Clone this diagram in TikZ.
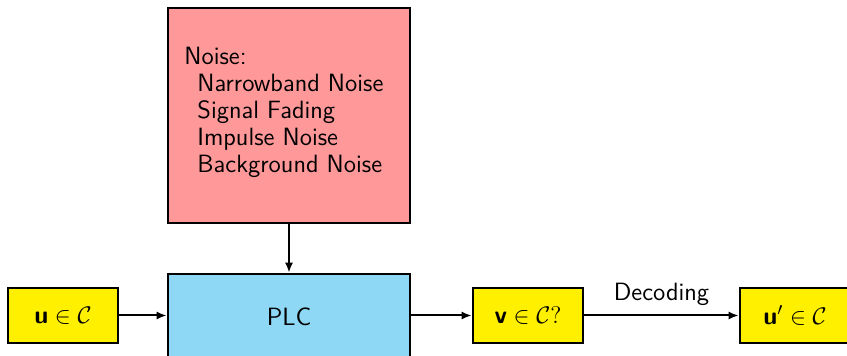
\documentclass[tikz,border=0pt]{standalone}
\usepackage{fontspec}
\usetikzlibrary{arrows.meta}
\definecolor{noisepink}{RGB}{255,153,153}
\definecolor{plcblue}{RGB}{142,216,245}
\definecolor{cwyellow}{RGB}{255,240,0}
\begin{document}
\begin{tikzpicture}[x=1pt,y=1pt,
  font=\sffamily\fontsize{12.5}{13.5}\selectfont,
  blk/.style={draw=black,line width=1.3pt,inner sep=0pt},
  ybox/.style={blk,fill=cwyellow,minimum width=55pt,minimum height=27.5pt},
  conn/.style={line width=1pt,-{Latex[length=5pt,width=4pt]}}]
\useasboundingbox (0,0) rectangle (423.5,178);
\begin{scope}
\clip (0,0) rectangle (423.5,178);
\node[blk,fill=noisepink,minimum width=121pt,minimum height=107.5pt] (noise) at (144.5,120.25) {};
\node[blk,fill=plcblue,minimum width=121pt,minimum height=43pt] (plc) at (144.5,19.5) {PLC};
\node[ybox] (u) at (31.5,20.25) {$\textbf{u}\in\mathcal{C}$};
\node[ybox] (v) at (264,20.25) {$\textbf{v}\in\mathcal{C}?$};
\node[ybox] (up) at (397.5,20.25) {$\textbf{u}'\in\mathcal{C}$};
\end{scope}
\node[anchor=north west,align=left,inner sep=0pt] (noisetext) at (92,154.6)
  {Noise:\\\hspace{6.5pt}Narrowband Noise\\\hspace{6.5pt}Signal Fading\\\hspace{6.5pt}Impulse Noise\\\hspace{6.5pt}Background Noise};
\draw[conn] (noise.south) -- (plc.north);
\draw[conn] (u.east) -- (plc.west|-u.east);
\draw[conn] (plc.east|-v.west) -- (v.west);
\draw[conn] (v.east) -- node[above=1pt] {Decoding} (up.west);
\end{tikzpicture}
\end{document}
